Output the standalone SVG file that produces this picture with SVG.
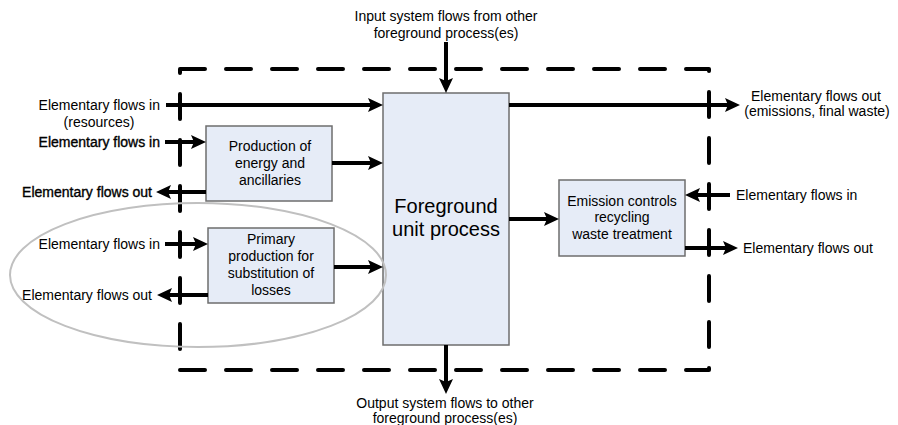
<svg xmlns="http://www.w3.org/2000/svg" width="898" height="425" viewBox="0 0 898 425">
<style>
text{font-family:"Liberation Sans",Arial,sans-serif;font-size:14px;fill:#000}
.mid{text-anchor:middle}
.end{text-anchor:end}
.big{font-size:20px}
.dk{stroke:#000;stroke-width:0.35px}
.box{fill:#E6ECF7;stroke:#6e6e6e;stroke-width:1.5}
.flow{stroke:#000;stroke-width:4;fill:none;marker-end:url(#ah)}
</style>
<defs>
<marker id="ah" markerUnits="userSpaceOnUse" viewBox="0 0 15 14" markerWidth="15" markerHeight="14" refX="3" refY="7" orient="auto">
<path d="M0,0 L15,7 L0,14 L3,7 Z" fill="#000"/>
</marker>
</defs>
<rect width="898" height="425" fill="#fff"/>
<g id="boundary">
<path d="M180,69 H709 V370 H180 Z" fill="none" stroke="#000" stroke-width="4" stroke-dasharray="25 21" stroke-linecap="round" stroke-linejoin="round"/>
</g>
<g id="foreground">
<rect class="box" x="383" y="93" width="126" height="252"/>
<text class="big mid" x="446" y="213">Foreground</text>
<text class="big mid" x="446" y="236">unit process</text>
</g>
<g id="production">
<rect class="box" x="206" y="126" width="126" height="75"/>
<text class="mid" x="270" y="151">Production of</text>
<text class="mid" x="270" y="168">energy and</text>
<text class="mid" x="270" y="185">ancillaries</text>
</g>
<g id="primary">
<rect class="box" x="208" y="228" width="126" height="75"/>
<text class="mid" x="271" y="244">Primary</text>
<text class="mid" x="271" y="261">production for</text>
<text class="mid" x="271" y="278">substitution of</text>
<text class="mid" x="271" y="295">losses</text>
</g>
<g id="emission">
<rect class="box" x="559" y="180" width="126" height="76"/>
<text class="mid" x="622" y="206">Emission controls</text>
<text class="mid" x="622" y="222">recycling</text>
<text class="mid" x="622" y="239">waste treatment</text>
</g>
<g id="substitution-group">
<ellipse cx="198" cy="275" rx="188" ry="72" fill="none" stroke="#c0c0c0" stroke-width="2"/>
</g>
<g id="connectors">
<line class="flow" x1="446" y1="42" x2="446" y2="81"/>
<line class="flow" x1="166" y1="105" x2="371" y2="105"/>
<line class="flow" x1="165" y1="142" x2="194" y2="142"/>
<line class="flow" x1="332" y1="163" x2="371" y2="163"/>
<line class="flow" x1="206" y1="192" x2="168" y2="192"/>
<line class="flow" x1="165" y1="244" x2="196" y2="244"/>
<line class="flow" x1="208" y1="295" x2="169" y2="295"/>
<line class="flow" x1="334" y1="267" x2="371" y2="267"/>
<line class="flow" x1="509" y1="219" x2="547" y2="219"/>
<line class="flow" x1="509" y1="105" x2="728" y2="105"/>
<line class="flow" x1="730" y1="195" x2="697" y2="195"/>
<line class="flow" x1="685" y1="248" x2="726" y2="248"/>
<line class="flow" x1="446" y1="345" x2="446" y2="382"/>
</g>
<g id="labels">
<text class="mid" x="446" y="21">Input system flows from other</text>
<text class="mid" x="446" y="38">foreground process(es)</text>
<text class="end" x="160" y="110">Elementary flows in</text>
<text class="mid" x="99" y="127">(resources)</text>
<text class="end dk" x="160" y="147">Elementary flows in</text>
<text class="end dk" x="152" y="197">Elementary flows out</text>
<text class="end" x="160" y="249">Elementary flows in</text>
<text class="end" x="152" y="300">Elementary flows out</text>
<text class="mid" x="816" y="101">Elementary flows out</text>
<text class="mid" x="817" y="116">(emissions, final waste)</text>
<text x="736" y="200">Elementary flows in</text>
<text x="743" y="253">Elementary flows out</text>
<text class="mid" x="445" y="408">Output system flows to other</text>
<text class="mid" x="445" y="423">foreground process(es)</text>
</g>
</svg>
